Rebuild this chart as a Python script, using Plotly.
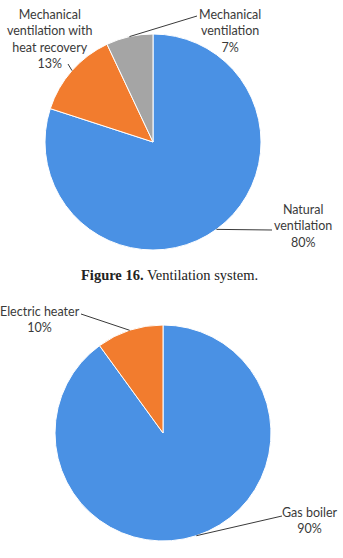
import math
import plotly.graph_objects as go

W, H = 343, 558

# Data
vent_labels = ["Natural ventilation", "Mechanical ventilation with heat recovery", "Mechanical ventilation"]
vent_values = [80, 13, 7]
heat_labels = ["Gas boiler", "Electric heater"]
heat_values = [90, 10]

BLUE = "#4A91E4"
ORANGE = "#F27C2E"
GRAY = "#A5A5A5"
TXT = "#3A3A3A"
FONT = "Lato"

# pie geometry (pixels)
P1 = dict(cx=153, cy=142, r=108)
P2 = dict(cx=163, cy=433, r=108)


def px(x):
    return x / W


def py(y):
    return 1 - y / H


def domain(p):
    return dict(x=[px(p["cx"] - p["r"]), px(p["cx"] + p["r"])],
                y=[py(p["cy"] + p["r"]), py(p["cy"] - p["r"])])


def mid_point(p, values, i):
    tot = sum(values)
    start = sum(values[:i]) / tot * 360
    mid = math.radians(start + values[i] / tot * 180)
    return p["cx"] + p["r"] * math.sin(mid), p["cy"] - p["r"] * math.cos(mid)


fig = go.Figure()
fig.add_trace(go.Pie(labels=vent_labels, values=vent_values, sort=False, direction="clockwise",
                     rotation=0, textinfo="none", hoverinfo="label+percent",
                     marker=dict(colors=[BLUE, ORANGE, GRAY], line=dict(color="white", width=1)),
                     domain=domain(P1), showlegend=False))
fig.add_trace(go.Pie(labels=heat_labels, values=heat_values, sort=False, direction="clockwise",
                     rotation=0, textinfo="none", hoverinfo="label+percent",
                     marker=dict(colors=[BLUE, ORANGE], line=dict(color="white", width=1)),
                     domain=domain(P2), showlegend=False))

annotations = []
shapes = []


def label(text, x, y, anchor_xy, p, values, i):
    annotations.append(dict(text=text, x=px(x), y=py(y), xref="paper", yref="paper",
                            showarrow=False, xanchor="center", yanchor="middle",
                            font=dict(family=FONT, size=12.5, color=TXT), align="center"))
    ex, ey = mid_point(p, values, i)
    ax, ay = anchor_xy
    shapes.append(dict(type="line", xref="paper", yref="paper", x0=px(ax), y0=py(ay),
                       x1=px(ex), y1=py(ey), line=dict(color=TXT, width=1)))


def pct(values, i):
    return f"{round(values[i] / sum(values) * 100)}%"


label(f"Mechanical<br>ventilation with<br>heat recovery<br>{pct(vent_values,1)}", 50, 39,
      (68, 64), P1, vent_values, 1)
label(f"Mechanical<br>ventilation<br>{pct(vent_values,2)}", 230, 31,
      (197, 16), P1, vent_values, 2)
label(f"Natural<br>ventilation<br>{pct(vent_values,0)}", 303, 226,
      (272, 230), P1, vent_values, 0)
label(f"Electric heater<br>{pct(heat_values,1)}", 40, 319,
      (81, 314), P2, heat_values, 1)
label(f"Gas boiler<br>{pct(heat_values,0)}", 310, 520,
      (282, 516), P2, heat_values, 0)

annotations.append(dict(text="<b>Figure 16.</b> Ventilation system.", x=px(169), y=py(275),
                        xref="paper", yref="paper", showarrow=False, xanchor="center",
                        yanchor="middle", font=dict(family="Liberation Serif, serif", size=14.5, color="#222222")))

fig.update_layout(width=W, height=H, margin=dict(l=0, r=0, t=0, b=0),
                  paper_bgcolor="white", plot_bgcolor="white",
                  annotations=annotations, shapes=shapes)

fig.write_html("out.html", config={"displayModeBar": False})
